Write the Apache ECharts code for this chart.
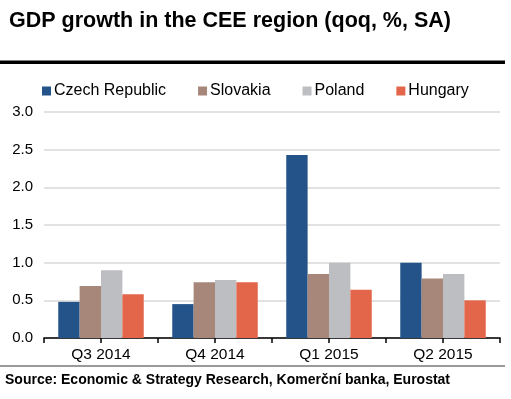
<!DOCTYPE html>
<html>
<head>
<meta charset="utf-8">
<script src="https://cdn.jsdelivr.net/npm/echarts@6/dist/echarts.min.js"></script>
<style>
  html, body { margin: 0; padding: 0; background: #fff; }
  #chart { width: 511px; height: 399px; }
</style>
</head>
<body>
<div id="chart"></div>
<script>
// quarters on the x axis
const quarters = ["Q3 2014", "Q4 2014", "Q1 2015", "Q2 2015"];
// qoq GDP growth, %
const czech = [0.48, 0.45, 2.43, 1.0];
const slovakia = [0.69, 0.74, 0.85, 0.79];
const poland = [0.9, 0.77, 1.0, 0.85];
const hungary = [0.58, 0.74, 0.64, 0.5];
const countries = ["Czech Republic", "Slovakia", "Poland", "Hungary"];

const font = "Liberation Sans, Arial, sans-serif";
const chart = echarts.init(document.getElementById("chart"));

function bar(name, values, color) {
  return {
    name: name,
    type: "bar",
    data: values,
    barGap: "0%",
    barCategoryGap: "25%",
    itemStyle: { color: color },
  };
}

chart.setOption({
  animation: false,
  textStyle: { fontFamily: font },
  title: {
    text: "GDP growth in the CEE region (qoq, %, SA)",
    left: 4,
    top: 5,
    textStyle: { fontSize: 21.5, fontWeight: "bold", color: "#000", fontFamily: font },
  },
  legend: {
    data: countries,
    left: 37,
    top: 78,
    icon: "rect",
    itemWidth: 9,
    itemHeight: 9,
    itemGap: 32,
    textStyle: { fontSize: 16, color: "#000", fontFamily: font, padding: [0, 0, 0, -2] },
  },
  grid: { left: 44, right: 11, top: 112, bottom: 61 },
  xAxis: [
    {
      type: "category",
      data: quarters,
      axisLine: { lineStyle: { color: "#000", width: 1.5 } },
      axisTick: { show: false },
      axisLabel: { fontSize: 15.5, color: "#000", margin: 9, fontFamily: font },
    },
    {
      // only carries the tick marks at every half category
      type: "value",
      position: "bottom",
      min: 0,
      max: 4,
      interval: 0.5,
      axisLine: { show: false },
      axisTick: { show: true, length: 5, lineStyle: { color: "#000", width: 1.5 } },
      axisLabel: { show: false },
      splitLine: { show: false },
    },
  ],
  yAxis: {
    type: "value",
    min: 0,
    max: 3,
    interval: 0.5,
    axisLine: { show: false },
    axisTick: { show: false },
    axisLabel: {
      fontSize: 15,
      color: "#000",
      margin: 11,
      fontFamily: font,
      formatter: (v) => v.toFixed(1),
    },
    splitLine: { lineStyle: { color: "#d9d9d9", width: 1.5 } },
  },
  graphic: [
    { type: "rect", shape: { x: 0, y: 60.5, width: 505, height: 3.5 }, style: { fill: "#000" } },
    { type: "rect", shape: { x: 0, y: 365, width: 505, height: 2 }, style: { fill: "#9a9a9a" } },
    {
      type: "text",
      left: 5,
      top: 373,
      style: {
        text: "Source: Economic & Strategy Research, Komerční banka, Eurostat",
        font: "bold 14px " + font,
        fill: "#000",
      },
    },
  ],
  series: [
    bar(countries[0], czech, "#245389"),
    bar(countries[1], slovakia, "#a6877a"),
    bar(countries[2], poland, "#bdbec2"),
    bar(countries[3], hungary, "#e3664a"),
  ],
});
</script>
</body>
</html>
